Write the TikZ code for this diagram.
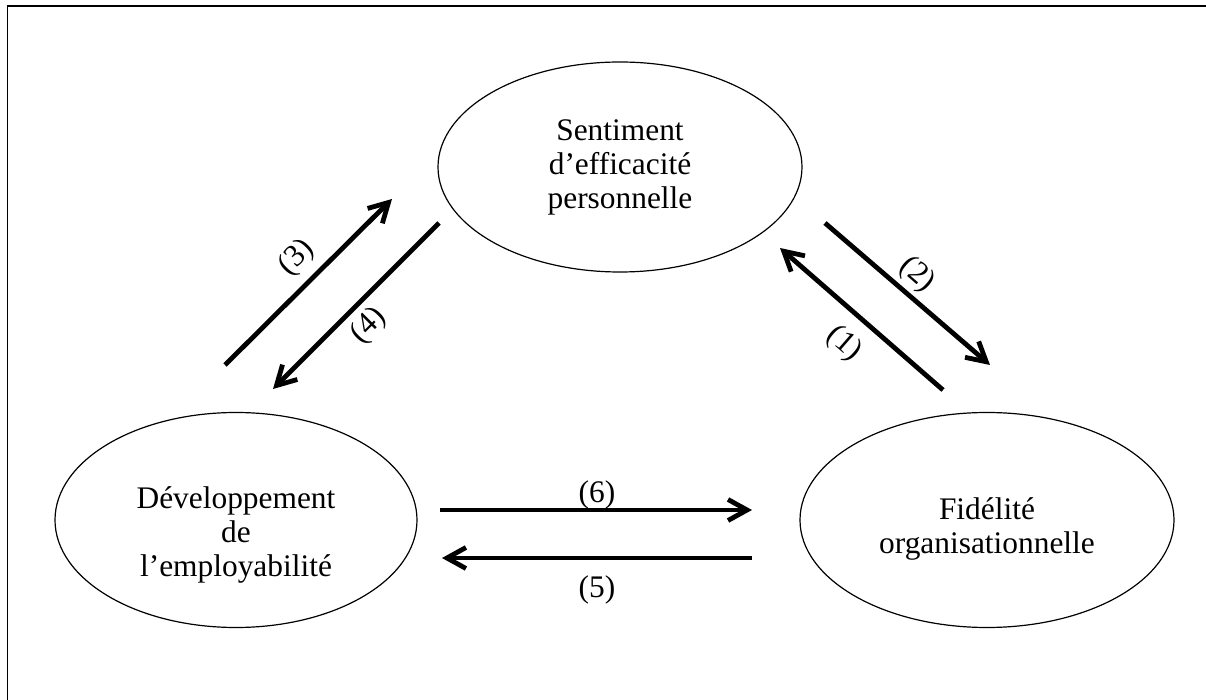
\documentclass[tikz,border=0pt]{standalone}
\usepackage{fontspec}
\setmainfont{Liberation Serif}
\usetikzlibrary{shapes.geometric,arrows.meta}
\begin{document}
\begin{tikzpicture}[x=0.5pt,y=-0.5pt,
  bubble/.style={draw,ellipse,line width=0.6pt,inner sep=0pt,outer sep=0pt},
  btext/.style={align=center,font=\fontsize{15.7}{17}\selectfont,inner sep=0pt},
  link/.style={line width=2.4pt,-{Straight Barb[length=9.5pt,width=10.5pt]}},
  num/.style={font=\fontsize{15.7}{17}\selectfont,inner sep=0pt}]
\useasboundingbox (0,0) rectangle (1206,700);
\draw[line width=0.9pt] (7.5,700) -- (7.5,6) -- (1206,6);
% ellipses
\node[bubble,minimum width=182pt,minimum height=105pt] (sef) at (620,167) {};
\node[bubble,minimum width=181pt,minimum height=107.5pt] (dev) at (236,520) {};
\node[bubble,minimum width=187pt,minimum height=107.5pt] (fid) at (987,520) {};
% texts
\node[btext] (sefT) at (620,167) {Sentiment\\d’efficacité\\personnelle};
\node[btext] (devT) at (236,535) {Développement\\de\\l’employabilité};
\node[btext] (fidT) at (987,529) {Fidélité\\organisationnelle};
% arrow end points
\coordinate (a3s) at (225,365); \coordinate (a3e) at (392,199);
\coordinate (a4s) at (439,223); \coordinate (a4e) at (273,389);
\coordinate (a2s) at (825,223); \coordinate (a2e) at (990,365);
\coordinate (a1s) at (943,390); \coordinate (a1e) at (780,248);
\coordinate (a6s) at (440,510); \coordinate (a6e) at (752,510);
\coordinate (a5s) at (752,558); \coordinate (a5e) at (442,558);
\draw[link] (a3s) -- (a3e);
\draw[link] (a4s) -- (a4e);
\draw[link] (a2s) -- (a2e);
\draw[link] (a1s) -- (a1e);
\draw[link] (a6s) -- (a6e);
\draw[link] (a5s) -- (a5e);
% labels
\node[num,rotate=45] (l3) at (297,258) {(3)};
\node[num,rotate=45] (l4) at (369,326) {(4)};
\node[num,rotate=-41] (l2) at (917,275) {(2)};
\node[num,rotate=-41] (l1) at (844,344) {(1)};
\node[num] (l6) at (597,495) {(6)};
\node[num] (l5) at (597,590) {(5)};
\end{tikzpicture}
\end{document}
